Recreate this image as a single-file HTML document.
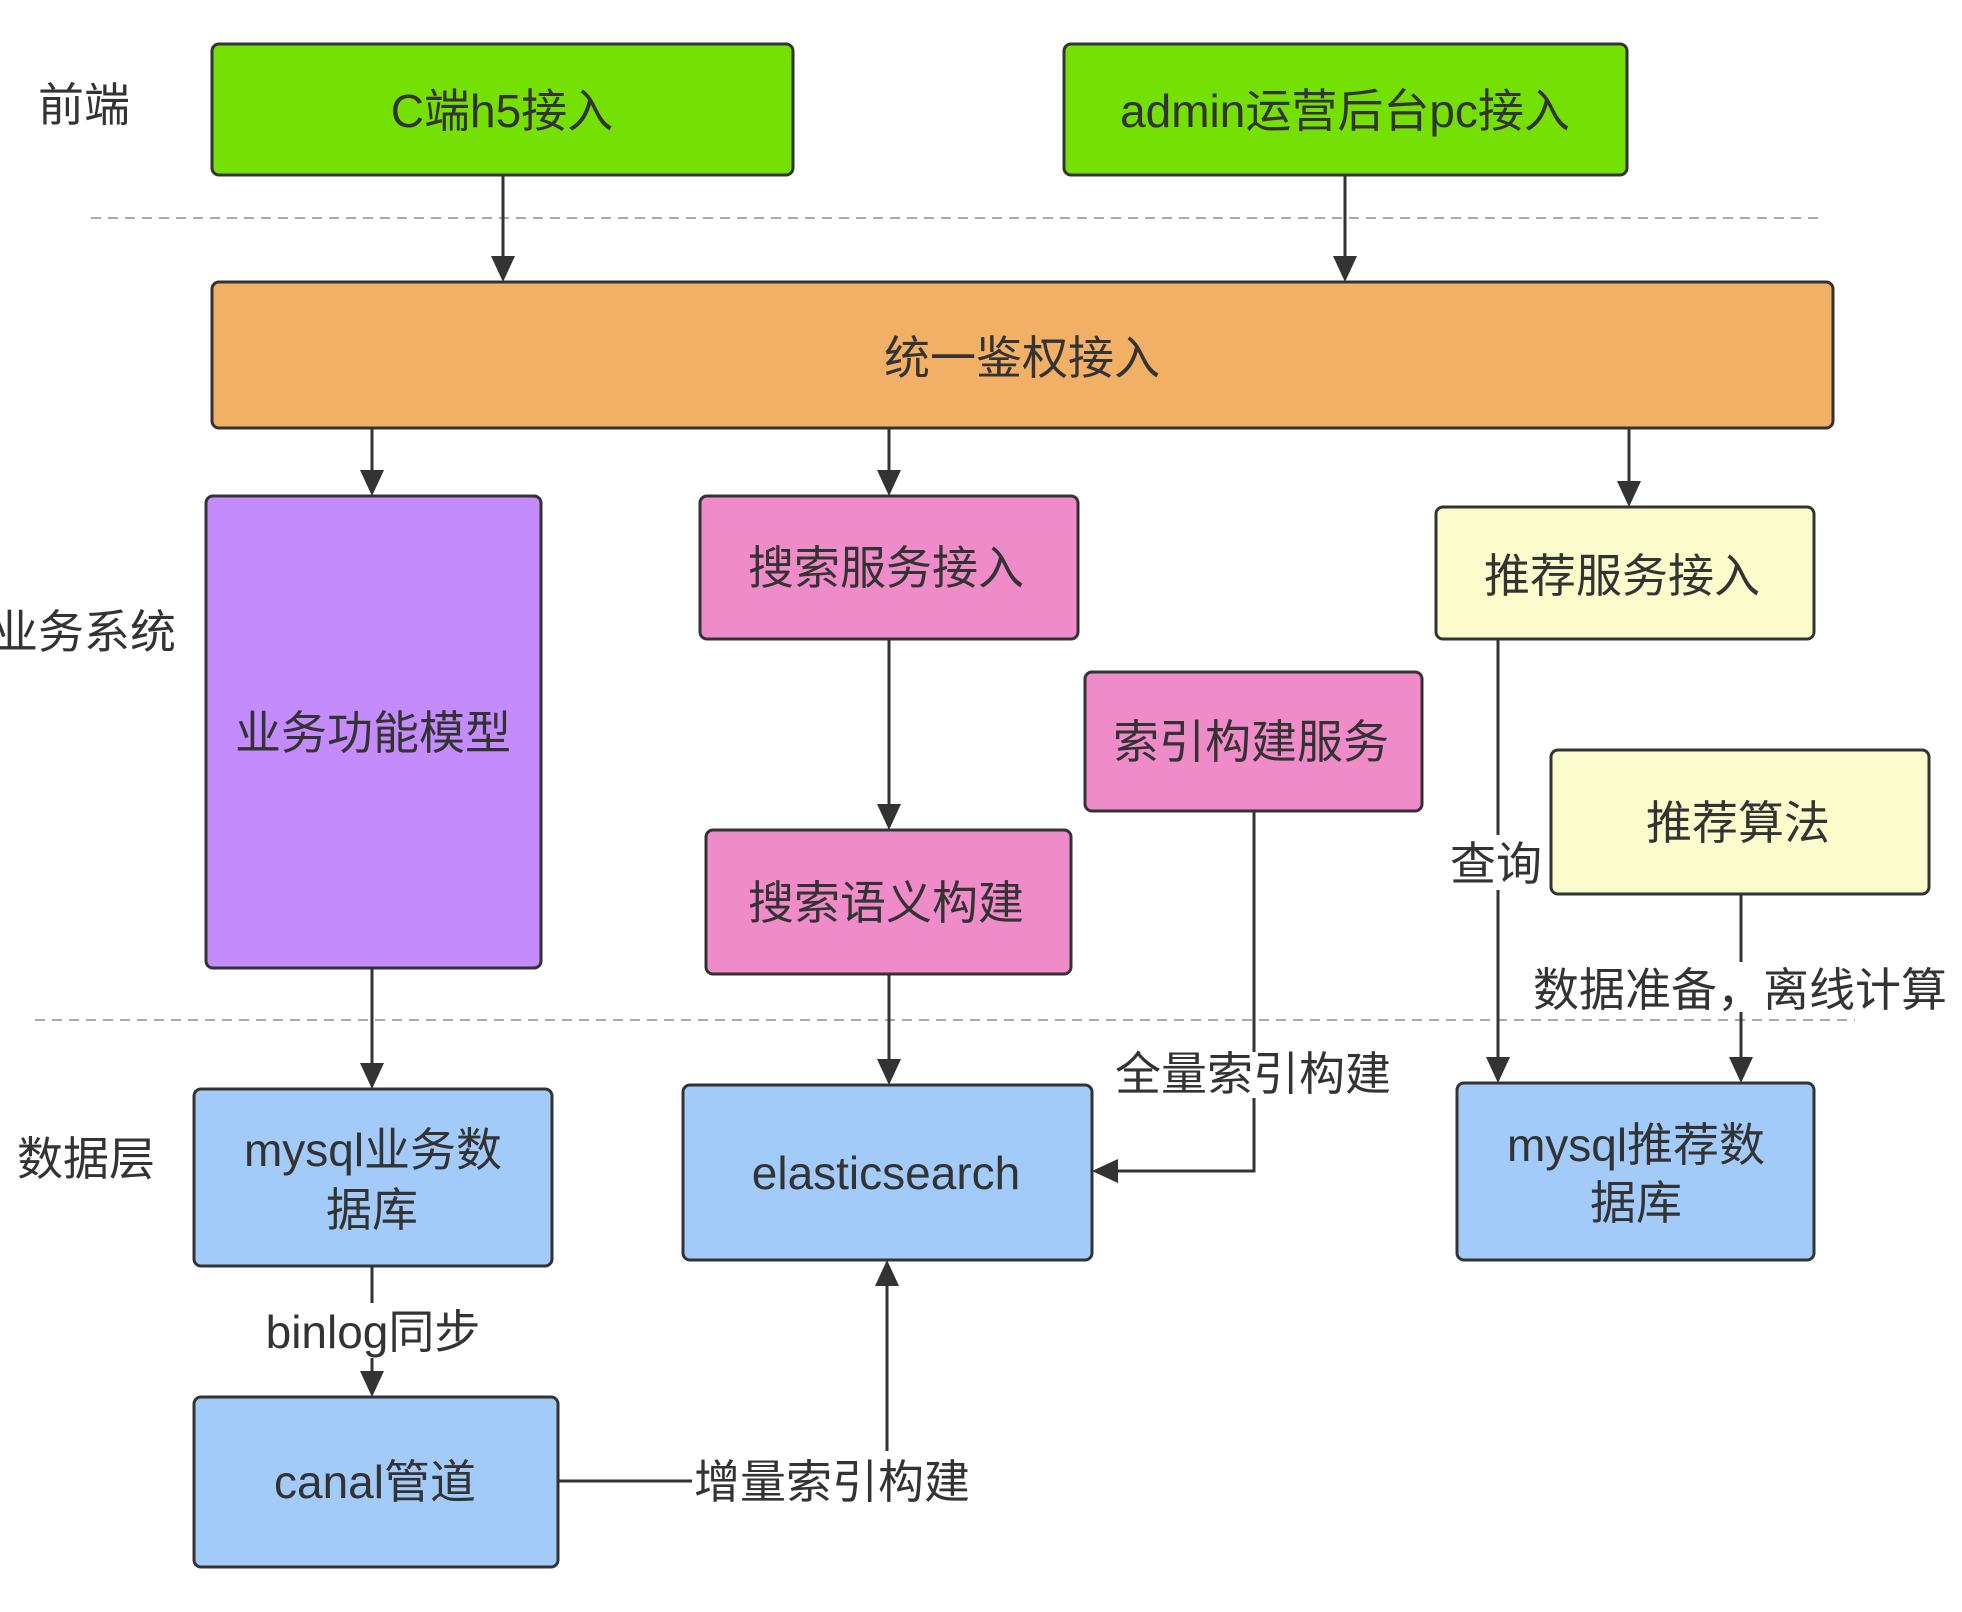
<!DOCTYPE html>
<html><head><meta charset="utf-8"><style>
html,body{margin:0;padding:0;background:#fff;}
svg{display:block;}
text{font-family:"Liberation Sans","Noto Sans CJK SC",sans-serif;fill:#333;}
</style></head><body>
<svg width="1962" height="1612" viewBox="0 0 1962 1612" xmlns="http://www.w3.org/2000/svg">
<g stroke="#aaa" stroke-width="2" stroke-dasharray="10,7">
<line x1="91" y1="218" x2="1822" y2="218"/>
<line x1="35" y1="1020" x2="1855" y2="1020"/>
</g>
<g stroke="#333" stroke-width="3" fill="none">
<line x1="503" y1="175" x2="503" y2="258"/>
<line x1="1345" y1="175" x2="1345" y2="258"/>
<line x1="372" y1="428" x2="372" y2="472"/>
<line x1="889" y1="428" x2="889" y2="472"/>
<line x1="1629" y1="428" x2="1629" y2="483"/>
<line x1="889" y1="639" x2="889" y2="806"/>
<line x1="889" y1="974" x2="889" y2="1061"/>
<line x1="372" y1="968" x2="372" y2="1065"/>
<polyline points="1254,811 1254,1052"/>
<polyline points="1254,1098 1254,1171 1116,1171"/>
<line x1="1498" y1="639" x2="1498" y2="835"/>
<line x1="1498" y1="890" x2="1498" y2="1059"/>
<line x1="1741" y1="894" x2="1741" y2="962"/>
<line x1="1741" y1="1012" x2="1741" y2="1059"/>
<line x1="372" y1="1266" x2="372" y2="1303"/>
<line x1="372" y1="1358" x2="372" y2="1373"/>
<line x1="558" y1="1481" x2="692" y2="1481"/>
<line x1="887" y1="1451" x2="887" y2="1284"/>
</g>
<g fill="#333">
<polygon points="491,256 515,256 503,282"/>
<polygon points="1333,256 1357,256 1345,282"/>
<polygon points="360,470 384,470 372,496"/>
<polygon points="877,470 901,470 889,496"/>
<polygon points="1617,481 1641,481 1629,507"/>
<polygon points="877,804 901,804 889,830"/>
<polygon points="877,1059 901,1059 889,1085"/>
<polygon points="360,1063 384,1063 372,1089"/>
<polygon points="1118,1159 1118,1183 1092,1171"/>
<polygon points="1486,1057 1510,1057 1498,1083"/>
<polygon points="1729,1057 1753,1057 1741,1083"/>
<polygon points="360,1371 384,1371 372,1397"/>
<polygon points="875,1286 899,1286 887,1260"/>
</g>
<g stroke="#333" stroke-width="3">
<rect x="212" y="44" width="581" height="131" rx="7" fill="#74e003"/>
<rect x="1064" y="44" width="563" height="131" rx="7" fill="#74e003"/>
<rect x="212" y="282" width="1621" height="146" rx="7" fill="#f2b066"/>
<rect x="206" y="496" width="335" height="472" rx="7" fill="#c38bfb"/>
<rect x="700" y="496" width="378" height="143" rx="7" fill="#f08bc9"/>
<rect x="1436" y="507" width="378" height="132" rx="7" fill="#fbfccb"/>
<rect x="1085" y="672" width="337" height="139" rx="7" fill="#f08bc9"/>
<rect x="1551" y="750" width="378" height="144" rx="7" fill="#fbfccb"/>
<rect x="706" y="830" width="365" height="144" rx="7" fill="#f08bc9"/>
<rect x="194" y="1089" width="358" height="177" rx="7" fill="#a2cbfa"/>
<rect x="683" y="1085" width="409" height="175" rx="7" fill="#a2cbfa"/>
<rect x="1457" y="1083" width="357" height="177" rx="7" fill="#a2cbfa"/>
<rect x="194" y="1397" width="364" height="170" rx="7" fill="#a2cbfa"/>
</g>
<g font-size="46" text-anchor="middle" dominant-baseline="central">
<text x="502" y="111">C端h5接入</text>
<text x="1345" y="111">admin运营后台pc接入</text>
<text x="1022" y="358">统一鉴权接入</text>
<text x="373" y="733">业务功能模型</text>
<text x="886" y="568">搜索服务接入</text>
<text x="1622" y="576">推荐服务接入</text>
<text x="1251" y="742">索引构建服务</text>
<text x="1738" y="823">推荐算法</text>
<text x="886" y="903">搜索语义构建</text>
<text x="373" y="1150">mysql业务数</text>
<text x="372" y="1210">据库</text>
<text x="886" y="1173">elasticsearch</text>
<text x="1636" y="1145">mysql推荐数</text>
<text x="1636" y="1203">据库</text>
<text x="375" y="1482">canal管道</text>
<text x="84" y="105">前端</text>
<text x="84" y="632">业务系统</text>
<text x="86" y="1159">数据层</text>
<text x="1253" y="1074">全量索引构建</text>
<text x="1496" y="864">查询</text>
<text x="1740" y="990">数据准备，离线计算</text>
<text x="373" y="1332">binlog同步</text>
<text x="832" y="1482">增量索引构建</text>
</g>
</svg>
</body></html>
